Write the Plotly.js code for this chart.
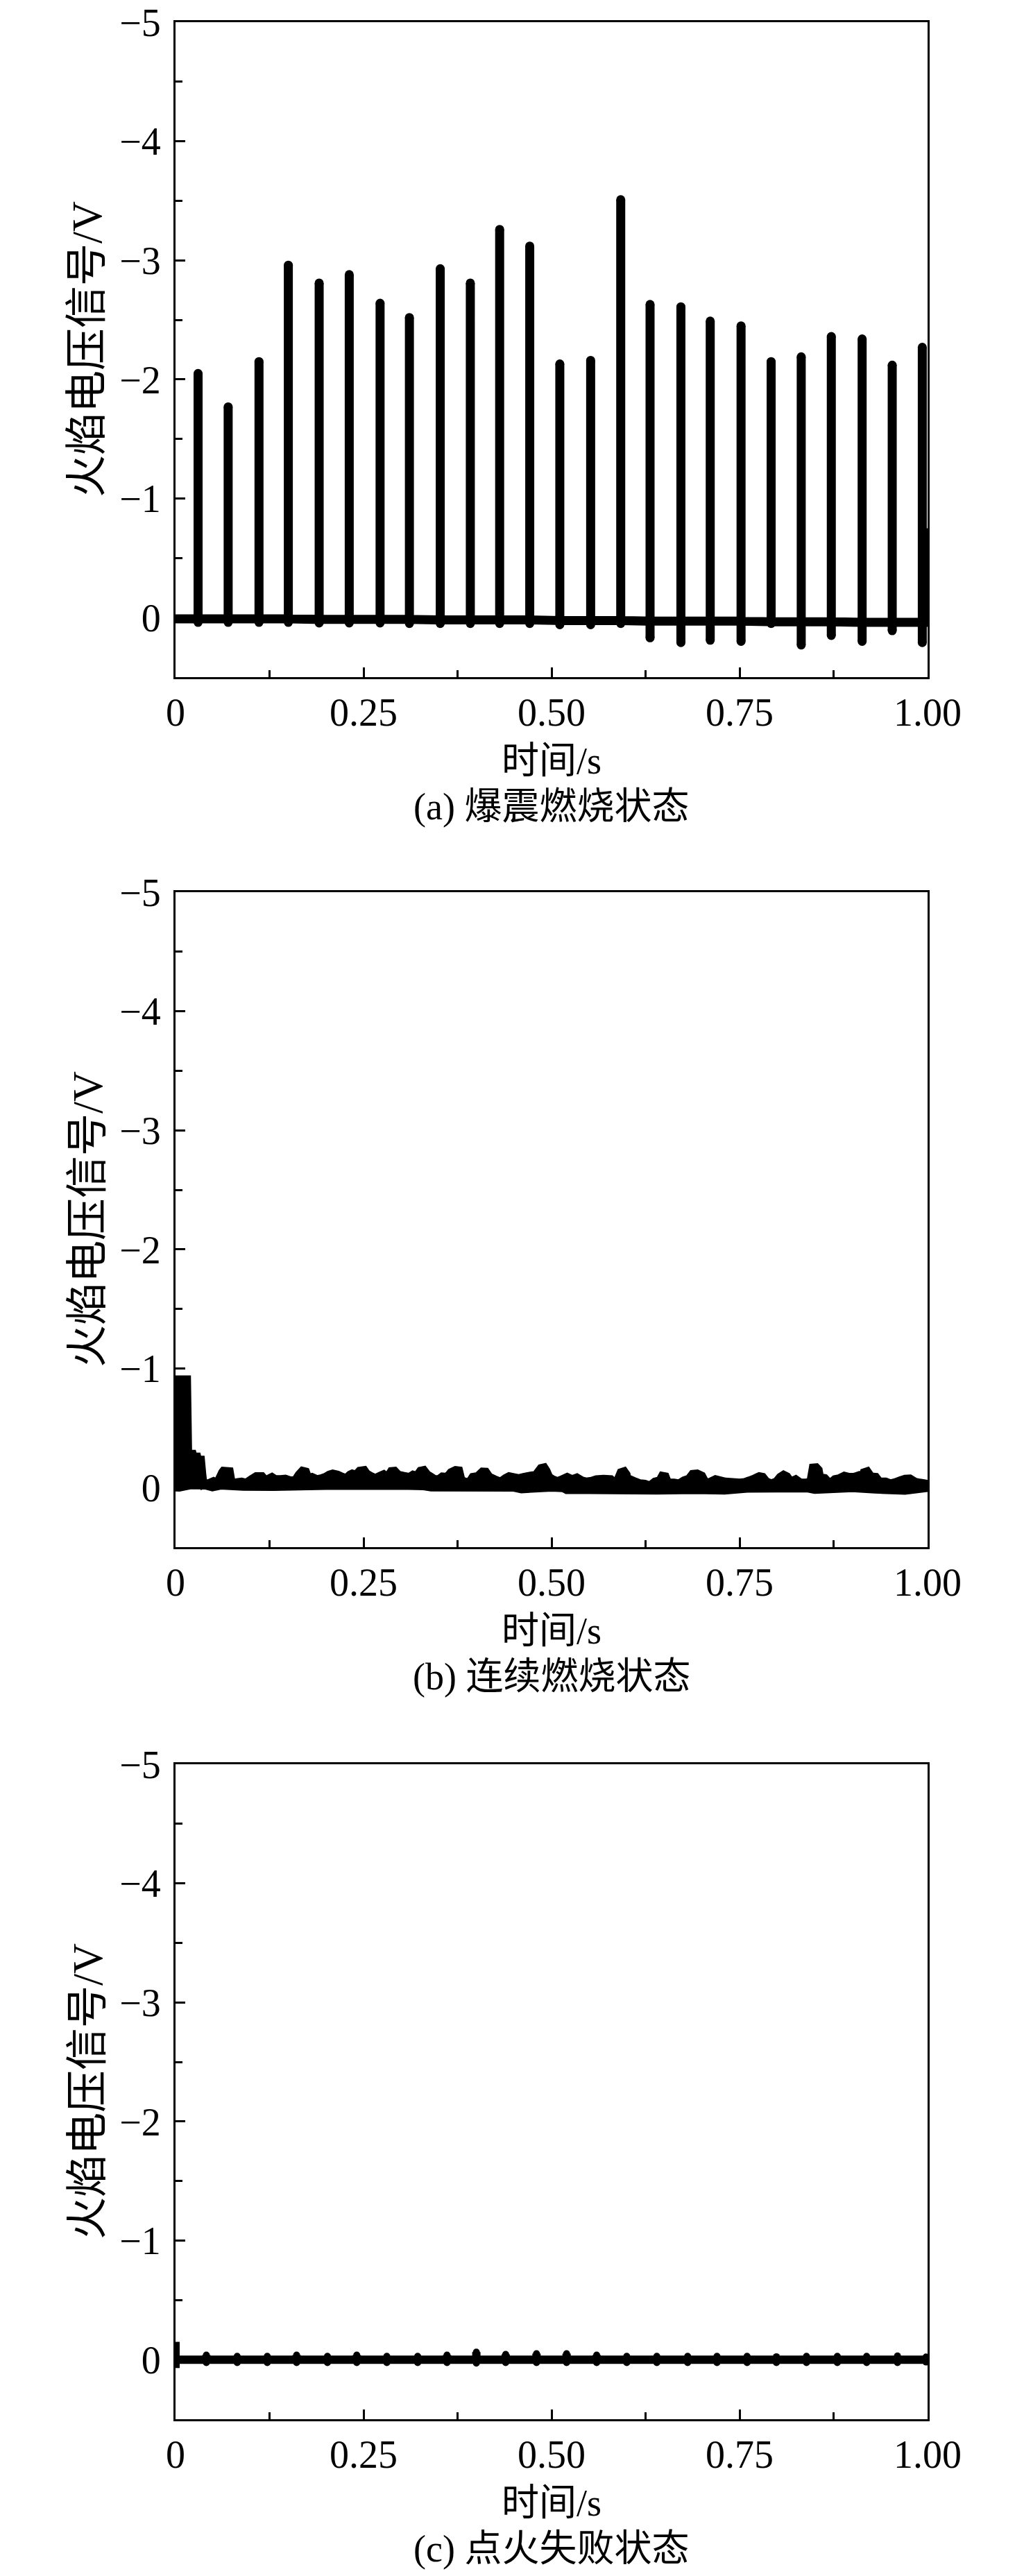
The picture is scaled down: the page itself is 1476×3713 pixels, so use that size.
<!DOCTYPE html>
<html>
<head>
<meta charset="utf-8">
<script src="https://cdn.plot.ly/plotly-3.0.1.min.js"></script>
<style>html,body{margin:0;padding:0;background:#fff;}</style>
</head>
<body>
<div id="chart" style="width:1476px;height:3713px;"></div>
<script>
// ---------- shared tick labels ----------
const xTickVals = [0, 0.25, 0.5, 0.75, 1.0];
const xTickText = ['0', '0.25', '0.50', '0.75', '1.00'];
const yTickVals = [0, -1, -2, -3, -4, -5];
const yTickText = ['0', '\u22121', '\u22122', '\u22123', '\u22124', '\u22125'];
const xTitle = '时间/s';
const yTitle = '火焰电压信号/V';
const captions = ['(a) 爆震燃烧状态', '(b) 连续燃烧状态', '(c) 点火失败状态'];

// ---------- (a) knock combustion: spikes ----------
const aSpikeT = [0.030,0.070,0.111,0.150,0.191,0.231,0.272,0.311,0.352,0.392,0.431,0.471,0.511,0.552,0.592,0.631,0.672,0.711,0.752,0.792,0.832,0.872,0.913,0.953,0.993];
const aSpikePeak = [-2.05,-1.77,-2.15,-2.96,-2.81,-2.88,-2.64,-2.52,-2.93,-2.81,-3.26,-3.12,-2.13,-2.16,-3.51,-2.63,-2.61,-2.49,-2.45,-2.15,-2.19,-2.36,-2.34,-2.12,-2.27];
const aSpikeTrough = [0.04,0.04,0.04,0.04,0.045,0.045,0.045,0.05,0.05,0.05,0.05,0.05,0.06,0.06,0.05,0.17,0.21,0.19,0.20,0.05,0.23,0.15,0.20,0.11,0.21];
const aBase = [0.01,0.01,0.01,0.01,0.015,0.015,0.015,0.015,0.02,0.02,0.02,0.02,0.025,0.025,0.025,0.03,0.03,0.03,0.03,0.035,0.035,0.035,0.04,0.04,0.04];
const aEndT = 1.0;
const aEndV = -0.75;

// ---------- (b) continuous combustion: band envelopes ----------
const bUpperT = [0.0,0.003,0.0045,0.0155,0.017,0.023,0.024,0.029,0.030,0.034,0.036,0.0376,0.0457,0.0506,0.0554,0.0619,0.0635,0.0722,0.0748,0.0813,0.0878,0.0942,0.1007,0.1072,0.1152,0.1201,0.1249,0.1282,0.1330,0.1395,0.1460,0.1524,0.1589,0.1637,0.1686,0.1735,0.1767,0.1815,0.1880,0.1945,0.1993,0.2042,0.2090,0.2155,0.2203,0.2268,0.2317,0.2349,0.2398,0.2446,0.2511,0.2543,0.2592,0.2656,0.2721,0.2769,0.2818,0.2866,0.2915,0.2963,0.3028,0.3109,0.3157,0.3206,0.3254,0.3303,0.3351,0.3400,0.3449,0.3497,0.3546,0.3610,0.3659,0.3723,0.3772,0.3804,0.3853,0.3901,0.3950,0.4015,0.4079,0.4128,0.4176,0.4241,0.4322,0.4387,0.4435,0.4484,0.4564,0.4629,0.4710,0.4791,0.4856,0.4904,0.4936,0.4969,0.5014,0.5078,0.5143,0.5208,0.5272,0.5337,0.5402,0.5466,0.5531,0.5596,0.5693,0.5790,0.5854,0.5919,0.5967,0.6000,0.6016,0.6064,0.6113,0.6178,0.6242,0.6307,0.6372,0.6436,0.6469,0.6517,0.6549,0.6630,0.6695,0.6760,0.6824,0.6873,0.6937,0.7002,0.7050,0.7115,0.7180,0.7244,0.7309,0.7406,0.7503,0.7568,0.7632,0.7697,0.7762,0.7810,0.7859,0.7923,0.7988,0.8037,0.8085,0.8133,0.8182,0.8247,0.8311,0.8376,0.8441,0.8473,0.8521,0.8554,0.8570,0.8635,0.8699,0.8764,0.8829,0.8893,0.8958,0.9023,0.9071,0.9120,0.9152,0.9200,0.9249,0.9314,0.9362,0.9443,0.9507,0.9572,0.9637,0.9701,0.9766,0.9831,0.9895,1.0];
const bUpperV = [-0.50,-0.50,-0.91,-0.91,-0.285,-0.285,-0.262,-0.262,-0.236,-0.236,-0.10,-0.023,-0.043,-0.056,-0.043,-0.130,-0.143,-0.139,-0.043,-0.047,-0.052,-0.043,-0.072,-0.097,-0.097,-0.062,-0.081,-0.091,-0.072,-0.072,-0.076,-0.062,-0.062,-0.110,-0.143,-0.136,-0.081,-0.091,-0.072,-0.081,-0.091,-0.110,-0.120,-0.110,-0.097,-0.081,-0.110,-0.120,-0.110,-0.143,-0.149,-0.120,-0.101,-0.081,-0.101,-0.114,-0.091,-0.140,-0.143,-0.110,-0.101,-0.091,-0.110,-0.101,-0.143,-0.149,-0.110,-0.091,-0.072,-0.072,-0.095,-0.091,-0.130,-0.149,-0.145,-0.062,-0.052,-0.043,-0.091,-0.097,-0.136,-0.134,-0.091,-0.072,-0.052,-0.081,-0.097,-0.091,-0.081,-0.091,-0.101,-0.110,-0.165,-0.172,-0.140,-0.091,-0.072,-0.056,-0.072,-0.091,-0.072,-0.087,-0.062,-0.052,-0.058,-0.072,-0.076,-0.072,-0.033,-0.130,-0.140,-0.110,-0.033,-0.066,-0.052,-0.037,-0.033,-0.019,-0.052,-0.062,-0.101,-0.095,-0.043,-0.043,-0.037,-0.062,-0.076,-0.116,-0.120,-0.101,-0.043,-0.052,-0.072,-0.062,-0.052,-0.048,-0.043,-0.048,-0.062,-0.078,-0.097,-0.091,-0.052,-0.037,-0.052,-0.091,-0.110,-0.095,-0.052,-0.072,-0.043,-0.043,-0.052,-0.169,-0.172,-0.149,-0.091,-0.081,-0.037,-0.072,-0.081,-0.101,-0.091,-0.091,-0.101,-0.037,-0.130,-0.140,-0.095,-0.091,-0.052,-0.052,-0.037,-0.047,-0.062,-0.076,-0.078,-0.052,-0.043,-0.033];
const bLowerT = [0.0,0.005,0.020,0.040,0.049,0.060,0.090,0.130,0.200,0.300,0.330,0.340,0.450,0.460,0.500,0.515,0.520,0.550,0.580,0.640,0.690,0.730,0.760,0.840,0.850,0.900,0.930,0.970,1.0];
const bLowerV = [0.0,0.002,-0.018,-0.016,0.0,-0.015,-0.006,-0.004,-0.012,-0.014,-0.010,0.0,0.002,0.016,0.002,0.006,0.022,0.022,0.024,0.026,0.022,0.026,0.010,0.008,0.020,0.006,0.018,0.028,0.004];

// ---------- (c) ignition failure: flat line with small blips ----------
const cStartV = [-0.15, 0.07];
const cBaseline = 0.0;
const cBumpT = [0.041,0.082,0.122,0.161,0.202,0.241,0.281,0.322,0.361,0.400,0.439,0.480,0.520,0.560,0.600,0.640,0.681,0.720,0.760,0.799,0.839,0.880,0.919,0.960,0.998];
const cBumpUp = [-0.039,-0.029,-0.029,-0.039,-0.029,-0.039,-0.029,-0.029,-0.039,-0.064,-0.045,-0.050,-0.050,-0.039,-0.029,-0.029,-0.029,-0.029,-0.029,-0.025,-0.029,-0.029,-0.029,-0.031,-0.023];
const cBumpDown = [0.025,0.025,0.025,0.025,0.025,0.025,0.025,0.025,0.025,0.030,0.025,0.025,0.025,0.025,0.025,0.025,0.025,0.025,0.025,0.025,0.025,0.025,0.025,0.025,0.020];

// ---------- build traces ----------
const LW = 13;
const black = '#000000';

// (a)
const ax = [0], ay = [aBase[0]];
aSpikeT.forEach((t, i) => {
  ax.push(t, t, t, t);
  ay.push(aBase[i], aSpikePeak[i], aSpikeTrough[i], aBase[i]);
});
ax.push(aEndT, aEndT);
ay.push(aBase[aBase.length - 1], aEndV);

// (c)
const cx = [0, 0, 0], cy = [cStartV[0], cStartV[1], cBaseline];
cBumpT.forEach((t, i) => {
  cx.push(t, t, t, t);
  cy.push(cBaseline, cBumpUp[i], cBumpDown[i], cBaseline);
});
cx.push(1.0); cy.push(cBaseline);

const traces = [
  {x: ax, y: ay, xaxis: 'x', yaxis: 'y', mode: 'lines', line: {color: black, width: LW, simplify: false}, hoverinfo: 'skip', showlegend: false},
  {x: aSpikeT.concat(aSpikeT), y: aSpikePeak.concat(aSpikeTrough), xaxis: 'x', yaxis: 'y', mode: 'markers', marker: {color: black, size: LW, symbol: 'circle'}, hoverinfo: 'skip', showlegend: false},
  {x: bLowerT, y: bLowerV, xaxis: 'x2', yaxis: 'y2', mode: 'lines', line: {color: black, width: 11, simplify: false}, hoverinfo: 'skip', showlegend: false},
  {x: bUpperT, y: bUpperV, xaxis: 'x2', yaxis: 'y2', mode: 'lines', fill: 'tonexty', fillcolor: black, line: {color: black, width: 11, simplify: false}, hoverinfo: 'skip', showlegend: false},
  {x: cx, y: cy, xaxis: 'x3', yaxis: 'y3', mode: 'lines', line: {color: black, width: 12, simplify: false}, hoverinfo: 'skip', showlegend: false},
  {x: cBumpT.concat(cBumpT), y: cBumpUp.concat(cBumpDown), xaxis: 'x3', yaxis: 'y3', mode: 'markers', marker: {color: black, size: 10, symbol: 'circle'}, hoverinfo: 'skip', showlegend: false}
];

// ---------- layout ----------
const W = 1476, H = 3713;
const plotL = 253, plotR = 1337;
const panelTops = [32, 1286, 2543];
const panelH = 944;
const serif = 'Liberation Serif, Times New Roman, serif';
const mixed = 'Liberation Serif, Noto Sans CJK SC, serif';

function xAxis(anchor) {
  return {
    domain: [plotL / W, plotR / W], range: [0, 1], autorange: false, anchor: anchor,
    tickmode: 'array', tickvals: xTickVals, ticktext: xTickText,
    ticks: 'inside', ticklen: 14, tickwidth: 3, tickcolor: black,
    showline: true, linewidth: 3, linecolor: black, mirror: true,
    showgrid: false, zeroline: false,
    minor: {tickmode: 'linear', tick0: 0, dtick: 0.125, ticks: 'inside', ticklen: 10, tickwidth: 3, tickcolor: black, showgrid: false},
    tickfont: {family: serif, size: 56, color: black},
    ticklabelstandoff: 0,
    title: {text: xTitle, font: {family: mixed, size: 54, color: black}, standoff: 20}
  };
}
function yAxis(anchor, top) {
  const bottom = top + panelH;
  return {
    domain: [1 - bottom / H, 1 - top / H], range: [0.5, -5], autorange: false, anchor: anchor,
    tickmode: 'array', tickvals: yTickVals, ticktext: yTickText,
    ticks: 'inside', ticklen: 14, tickwidth: 3, tickcolor: black,
    showline: true, linewidth: 3, linecolor: black, mirror: true,
    showgrid: false, zeroline: false,
    minor: {tickmode: 'linear', tick0: 0, dtick: 0.5, ticks: 'inside', ticklen: 10, tickwidth: 3, tickcolor: black, showgrid: false},
    tickfont: {family: serif, size: 56, color: black},
    ticklabelstandoff: 7
  };
}

const annotations = [];
captions.forEach((txt, i) => {
  annotations.push({
    text: txt, xref: 'paper', yref: 'paper',
    x: (plotL + plotR) / 2 / W, y: 1 - (panelTops[i] + panelH + 187) / H,
    xanchor: 'center', yanchor: 'middle', showarrow: false,
    font: {family: mixed, size: 54, color: black}
  });
  annotations.push({
    text: yTitle, xref: 'paper', yref: 'paper', textangle: -90,
    x: 126 / W, y: 1 - (panelTops[i] + panelH / 2) / H,
    xanchor: 'center', yanchor: 'middle', showarrow: false,
    font: {family: mixed, size: 61, color: black}
  });
});

const layout = {
  width: W, height: H,
  margin: {l: 0, r: 0, t: 0, b: 0},
  paper_bgcolor: '#fff', plot_bgcolor: '#fff',
  showlegend: false,
  xaxis: xAxis('y'), yaxis: yAxis('x', panelTops[0]),
  xaxis2: xAxis('y2'), yaxis2: yAxis('x2', panelTops[1]),
  xaxis3: xAxis('y3'), yaxis3: yAxis('x3', panelTops[2]),
  annotations: annotations
};

Plotly.newPlot('chart', traces, layout, {displayModeBar: false, staticPlot: true});
</script>
</body>
</html>
